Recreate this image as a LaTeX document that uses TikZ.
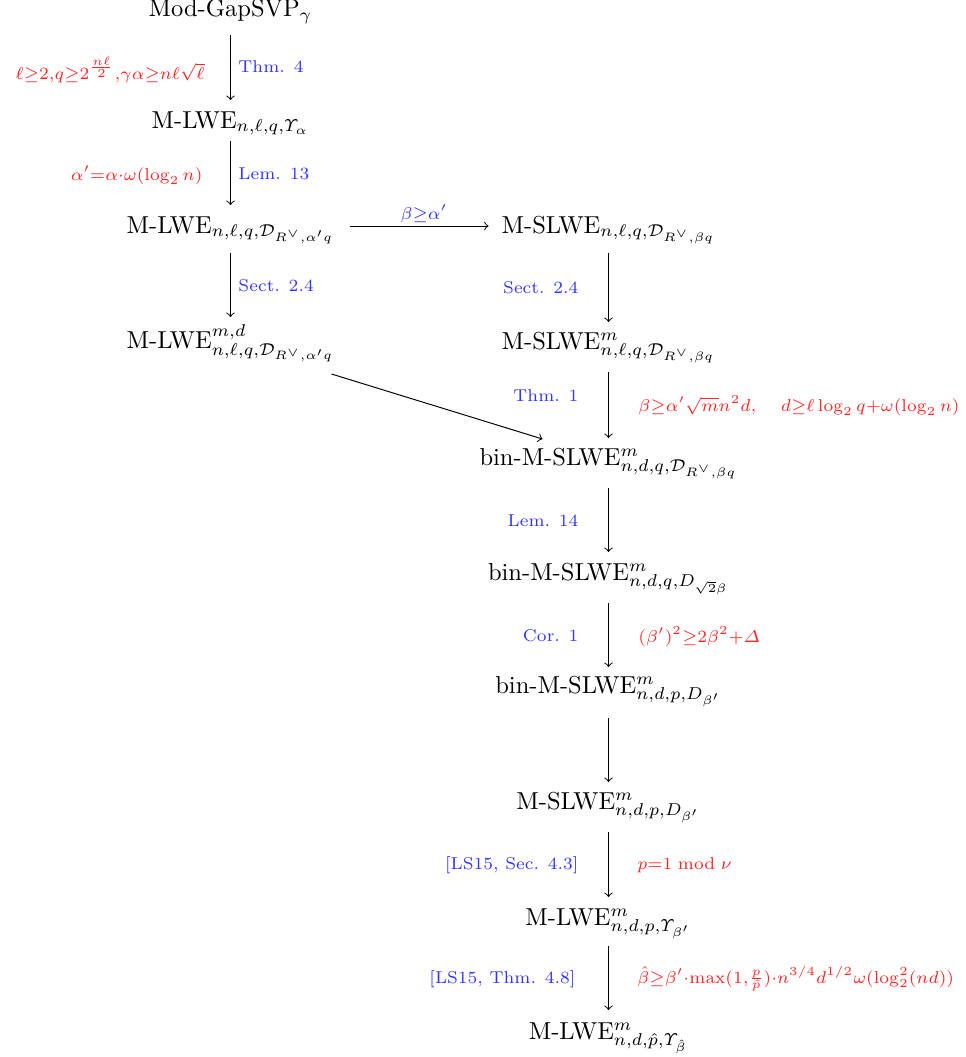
\documentclass[tikz,border=0pt]{standalone}
\usepackage{amsmath,amssymb}
\usetikzlibrary{calc}
\tikzset{
  prob/.style={inner sep=0pt, anchor=base},
  ref/.style={inner sep=0pt, text=blue!80, font=\scriptsize},
  cond/.style={inner sep=0pt, text=red!85},
  arr/.style={->, line width=0.4pt},
}
\begin{document}
\begin{tikzpicture}[x=0.408pt,y=-0.408pt]
\useasboundingbox (0,0) rectangle (966,1057);
% problems
\node[prob] (n0) at (230.5,17) {Mod-GapSVP$_\gamma$};
\node[prob] (n1) at (230.5,128) {M-LWE$_{n,\ell,q,\varUpsilon_\alpha}$};
\node[prob] (n2) at (230.5,233) {M-LWE$_{n,\ell,q,\mathcal{D}_{R^\vee,\alpha' q}}$};
\node[prob] (n3) at (608.5,233) {M-SLWE$_{n,\ell,q,\mathcal{D}_{R^\vee,\beta q}}$};
\node[prob] (n4) at (230.5,348) {M-LWE$^{m,d}_{n,\ell,q,\mathcal{D}_{R^\vee,\alpha' q}}$};
\node[prob] (n5) at (608.5,349) {M-SLWE$^{m}_{n,\ell,q,\mathcal{D}_{R^\vee,\beta q}}$};
\node[prob] (n6) at (608.5,465) {bin-M-SLWE$^{m}_{n,d,q,\mathcal{D}_{R^\vee,\beta q}}$};
\node[prob] (n7) at (608.5,580) {bin-M-SLWE$^{m}_{n,d,q,D_{\sqrt{2}\beta}}$};
\node[prob] (n8) at (608.5,693) {bin-M-SLWE$^{m}_{n,d,p,D_{\beta'}}$};
\node[prob] (n9) at (608.5,809) {M-SLWE$^{m}_{n,d,p,D_{\beta'}}$};
\node[prob] (n10) at (608.5,925) {M-LWE$^{m}_{n,d,p,\varUpsilon_{\beta'}}$};
\node[prob] (n11) at (608.5,1039) {M-LWE$^{m}_{n,d,\hat{p},\varUpsilon_{\hat\beta}}$};
% arrows
\draw[arr] ($(n0.base)+(0,18)$) -- ($(n1.base)+(0,-28)$);
\draw[arr] ($(n1.base)+(0,13)$) -- ($(n2.base)+(0,-28)$);
\draw[arr] ($(n2.base)+(0,19.5)$) -- ($(n4.base)+(0,-31)$);
\draw[arr] ($(n2.base)+(119,-7)$) -- ($(n3.base)+(-120,-7)$);
\draw[arr] ($(n3.base)+(0,20)$) -- ($(n5.base)+(0,-27)$);
\draw[arr] ($(n5.base)+(0,23)$) -- ($(n6.base)+(0,-27)$);
\draw[arr] ($(n4.base)+(101,26)$) -- ($(n6.base)+(-66,-26)$);
\draw[arr] ($(n6.base)+(0,23)$) -- ($(n7.base)+(0,-28)$);
\draw[arr] ($(n7.base)+(0,23)$) -- ($(n8.base)+(0,-26)$);
\draw[arr] ($(n8.base)+(0,25)$) -- ($(n9.base)+(0,-27)$);
\draw[arr] ($(n9.base)+(0,23)$) -- ($(n10.base)+(0,-28)$);
\draw[arr] ($(n10.base)+(0,21)$) -- ($(n11.base)+(0,-29)$);
% references
\node[ref, anchor=base west] (r1) at (238,73) {Thm. 4};
\node[ref, anchor=base west] (r2) at (238,179) {Lem. 13};
\node[ref, font=\normalsize, anchor=base] (r3) at (424,219) {$\scriptstyle\beta\geq\alpha'$};
\node[ref, anchor=base west] (r4) at (238,291) {Sect. 2.4};
\node[ref, anchor=base east] (r5) at (579,293) {Sect. 2.4};
\node[ref, anchor=base east] (r6) at (579,401) {Thm. 1};
\node[ref, anchor=base east] (r7) at (579,526) {Lem. 14};
\node[ref, anchor=base east] (r8) at (579,641) {Cor. 1};
\node[ref, anchor=base east] (r9) at (579,869) {[LS15, Sec. 4.3]};
\node[ref, anchor=base east] (r10) at (576,983) {[LS15, Thm. 4.8]};
% conditions
\node[cond, anchor=base east] (c1) at (205,79) {$\scriptstyle \ell\geq 2,q\geq 2^{\frac{n\ell}{2}},\gamma\alpha\geq n\ell\sqrt{\ell}$};
\node[cond, anchor=base east] (c2) at (203,180) {$\scriptstyle \alpha'=\alpha\cdot\omega(\log_2 n)$};
\node[cond, anchor=base west] (c3) at (638,411) {$\scriptstyle \beta\geq\alpha'\sqrt{m}n^2d,\quad d\geq\ell\log_2 q+\omega(\log_2 n)$};
\node[cond, anchor=base west] (c4) at (638,642) {$\scriptstyle (\beta')^2\geq 2\beta^2+\varDelta$};
\node[cond, anchor=base west] (c5) at (637,869) {$\scriptstyle p=1 \bmod \nu$};
\node[cond, anchor=base west] (c6) at (637,983) {$\scriptstyle \hat\beta\geq\beta'\cdot\max(1,\frac{p}{\hat p})\cdot n^{3/4}d^{1/2}\omega(\log_2^2(nd))$};
\end{tikzpicture}
\end{document}
